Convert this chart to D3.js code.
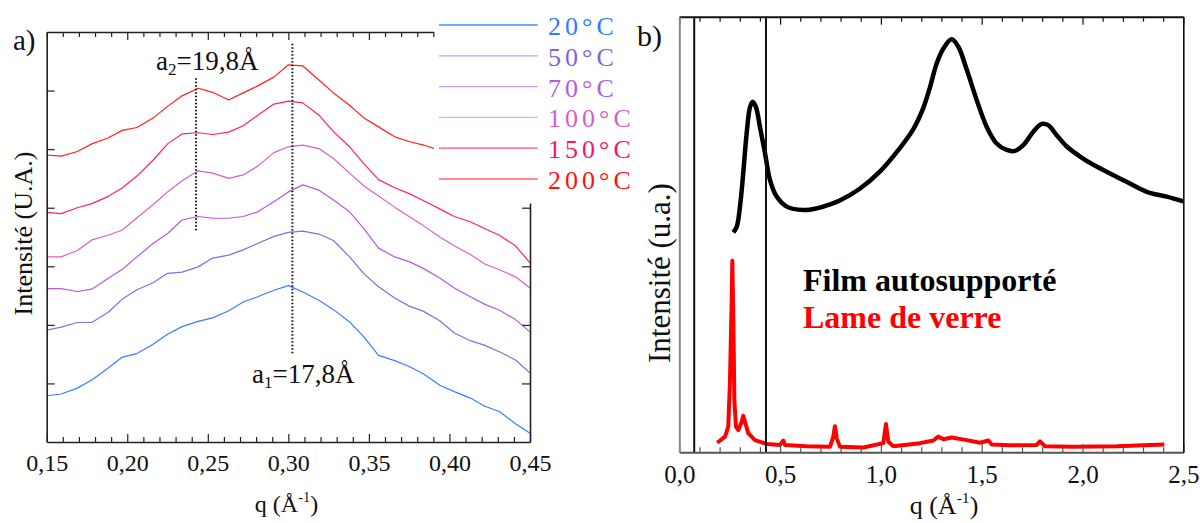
<!DOCTYPE html>
<html><head><meta charset="utf-8">
<script src="https://cdn.jsdelivr.net/npm/d3@7"></script>
<style>html,body{margin:0;padding:0;background:#fff;}svg{display:block;}</style>
</head><body>
<svg id="chart" width="1200" height="523"></svg>
<script>
// ---------- DATA (panel a) ----------
const qLeft = [0.150,0.159,0.169,0.178,0.188,0.197,0.206,0.216,0.225,0.234,0.244,0.253,0.263,0.272,0.281,0.291,0.300,0.309,0.319,0.328,0.338,0.347,0.356,0.366,0.375,0.384,0.394,0.403,0.413,0.422,0.431,0.441,0.450];
const i20  = [0.79,0.82,0.92,1.06,1.26,1.45,1.51,1.67,1.84,1.97,2.06,2.12,2.24,2.39,2.48,2.59,2.67,2.56,2.42,2.26,2.05,1.79,1.48,1.39,1.29,1.16,0.97,0.86,0.75,0.61,0.52,0.31,0.15];
const i50  = [1.91,1.96,2.04,2.04,2.21,2.44,2.60,2.72,2.88,2.90,2.99,3.14,3.19,3.28,3.39,3.51,3.58,3.60,3.55,3.44,3.16,2.87,2.65,2.46,2.32,2.23,2.07,1.86,1.73,1.65,1.54,1.40,1.18];
const i70  = [2.62,2.62,2.57,2.61,2.79,2.95,3.16,3.39,3.56,3.79,3.85,3.82,3.82,3.85,3.93,4.10,4.27,4.39,4.30,4.13,3.93,3.64,3.31,3.16,3.08,2.96,2.80,2.63,2.48,2.35,2.25,2.09,1.88];
const i100 = [3.16,3.16,3.27,3.45,3.53,3.62,3.83,4.05,4.27,4.46,4.63,4.59,4.50,4.56,4.71,4.94,5.04,5.07,5.01,4.84,4.59,4.37,4.20,4.01,3.85,3.69,3.50,3.35,3.20,3.04,2.94,2.82,2.63];
const i150 = [3.92,3.90,4.00,4.07,4.19,4.34,4.54,4.81,5.09,5.26,5.28,5.25,5.29,5.40,5.58,5.77,5.82,5.79,5.58,5.30,5.04,4.75,4.48,4.34,4.24,4.12,3.98,3.85,3.76,3.64,3.53,3.35,3.06];
const i200 = [4.90,4.88,4.96,5.09,5.19,5.32,5.37,5.53,5.73,5.91,6.04,5.97,5.84,5.96,6.08,6.23,6.44,6.42,6.18,5.96,5.75,5.53,5.38,5.21,5.13,5.07,4.98];
const tempLabels = ["20°C","50°C","70°C","100°C","150°C","200°C"];
const xTicksA = [0.15,0.20,0.25,0.30,0.35,0.40,0.45];
const markQ = [0.2427, 0.3025];
const markTop = [6.21, 6.80];
const markBottom = [3.59, 1.50];

// ---------- DATA (panel b) ----------
const qFilm = [0.268,0.285,0.301,0.317,0.334,0.351,0.364,0.380,0.400,0.425,0.450,0.483,0.533,0.615,0.682,0.748,0.796,0.895,0.996,1.090,1.161,1.210,1.244,1.277,1.310,1.351,1.384,1.426,1.475,1.525,1.574,1.624,1.665,1.706,1.756,1.798,1.830,1.872,1.922,1.988,2.054,2.120,2.219,2.318,2.418,2.500];
const iFilm = [50.5,51.8,56.4,64.0,73.2,79.3,80.5,79.3,74.7,68.7,62.5,58.7,56.4,55.6,56.0,56.9,57.8,60.5,64.5,69.6,74.2,79.0,83.9,89.3,92.7,94.8,93.1,87.8,80.9,74.7,70.9,69.4,69.2,70.5,73.6,75.4,75.1,72.8,70.2,67.9,66.0,64.4,62.1,59.8,58.7,57.6];
const qGlass = [0.188,0.227,0.243,0.251,0.260,0.263,0.268,0.273,0.281,0.293,0.310,0.317,0.326,0.342,0.375,0.434,0.500,0.516,0.524,0.632,0.748,0.764,0.772,0.781,0.797,0.913,1.012,1.025,1.037,1.062,1.194,1.260,1.285,1.310,1.351,1.426,1.492,1.533,1.550,1.640,1.773,1.789,1.814,1.954,2.170,2.406];
const iGlass = [2.2,3.6,5.9,15.9,35.0,44.0,31.1,12.0,5.9,5.1,7.0,8.4,7.0,4.4,2.8,1.9,1.7,2.7,1.7,1.4,1.3,3.6,6.0,3.2,1.3,1.1,2.1,6.5,2.4,1.4,2.1,2.7,3.6,3.0,3.4,2.8,2.2,2.7,1.8,1.6,1.7,2.5,1.4,1.3,1.4,1.8];
const xTicksB = [0,0.5,1.0,1.5,2.0,2.5];
const boxQ = [0.074, 0.430];
const seriesNamesB = ["Film autosupporté","Lame de verre"];

// ---------- DRAW ----------
const svg = d3.select("#chart");
const serif = "'Liberation Serif','Times New Roman',serif";
const curveColors = ["#3b7dff","#8a6ae0","#b85ad8","#d860c8","#ff2070","#ff2020"];
const legendLineColors = ["#4a88ff","#b4a2f0","#d49ae8","#eaa2dc","#ff4a88","#ff8a8a"];
const legendTextColors = ["#2f7bff","#7a66dd","#b25cdc","#d35fc8","#ff1166","#ff1010"];

// panel a scales
const xA = d3.scaleLinear([0.15,0.45],[46.7,530]);
const yA = d3.scaleLinear([0,7],[442,32]);
const seriesA = [i20,i50,i70,i100,i150,i200];
const lineA = d3.line().x((d,i)=>xA(qLeft[i])).y(d=>yA(d));
const gA = svg.append("g");
seriesA.forEach((s,k)=>{
  gA.append("path").attr("d",lineA(s)).attr("fill","none")
    .attr("stroke",curveColors[k]).attr("stroke-width",1.2).attr("stroke-linejoin","round");
});
// dotted markers
markQ.forEach((q,i)=>{
  gA.append("line").attr("x1",xA(q)).attr("x2",xA(q)).attr("y1",yA(markTop[i])).attr("y2",yA(markBottom[i]))
    .attr("stroke","#111").attr("stroke-width",2).attr("stroke-dasharray","1.5,2");
});
// legend bg
svg.append("rect").attr("x",434).attr("y",0).attr("width",198).attr("height",201).attr("fill","#fff");
tempLabels.forEach((t,k)=>{
  const yb = 35 + k*30.8;
  svg.append("line").attr("x1",439).attr("x2",537.7).attr("y1",yb-10).attr("y2",yb-10)
    .attr("stroke",legendLineColors[k]).attr("stroke-width",k===5?2:1.3);
  svg.append("text").attr("x",548).attr("y",yb).text(t).attr("fill",legendTextColors[k])
    .attr("font-family",serif).attr("font-size",26).attr("letter-spacing","4px");
});

function fmt(n){return d=>d.toFixed(n).replace(".",",");}
function styleAxis(g,color,w){
  g.attr("font-family",null).attr("font-size",null);
  g.selectAll("path.domain").attr("stroke",color).attr("stroke-width",w);
  g.selectAll(".tick line").attr("stroke",color).attr("stroke-width",1.2);
}
// panel a axes
const minorA = d3.range(15,46).map(v=>v/100).filter(v=>!xTicksA.some(m=>Math.abs(m-v)<1e-6));
let g = svg.append("g").attr("transform","translate(0,442)")
  .call(d3.axisBottom(xA).tickValues(xTicksA).tickFormat(fmt(2)).tickSizeInner(-8).tickSizeOuter(0).tickPadding(12));
styleAxis(g,"#222",1.6);
g.selectAll("text").attr("font-family",serif).attr("font-size",24).attr("fill","#111");
g = svg.append("g").attr("transform","translate(0,442)")
  .call(d3.axisBottom(xA).tickValues(minorA).tickFormat("").tickSizeInner(-5).tickSizeOuter(0));
g.select(".domain").remove(); styleAxis(g,"#222",1.6);
const xATop = xA.copy().domain([0.15,0.39]).range([xA(0.15),xA(0.39)]);
g = svg.append("g").attr("transform","translate(0,32)")
  .call(d3.axisTop(xATop).tickValues(d3.range(15,40).map(v=>v/100)).tickFormat("").tickSizeInner(-5).tickSizeOuter(0));
styleAxis(g,"#222",1.6);
g.selectAll(".tick line").attr("y2",d=>[0.2,0.25,0.3,0.35].some(m=>Math.abs(m-d)<1e-6)?8:5);
g = svg.append("g").attr("transform","translate(46.7,0)")
  .call(d3.axisLeft(yA).tickValues([1,2,3,4,5,6]).tickFormat("").tickSizeInner(-8).tickSizeOuter(0));
styleAxis(g,"#222",1.6);
const yARight = yA.copy().domain([0,4.08]).range([yA(0),yA(4.08)]);
g = svg.append("g").attr("transform","translate(530,0)")
  .call(d3.axisRight(yARight).tickValues([1,2,3,4]).tickFormat("").tickSizeInner(-8).tickSizeOuter(0));
styleAxis(g,"#222",1.6);

// panel a texts
svg.append("text").attr("x",13).attr("y",50).text("a)").attr("font-family",serif).attr("font-size",29).attr("fill","#111");
svg.append("text").attr("transform","translate(31.7,233.5) rotate(-90)").attr("text-anchor","middle")
  .text("Intensité (U.A.)").attr("font-family",serif).attr("font-size",26).attr("fill","#111");
function xLabel(x,y,size){
  const t = svg.append("text").attr("x",x).attr("y",y).attr("text-anchor","middle")
    .attr("font-family",serif).attr("font-size",size).attr("fill","#111");
  t.append("tspan").text("q (Å");
  t.append("tspan").text("-1").attr("font-size",size*0.6).attr("dy",-size*0.42);
  t.append("tspan").text(")").attr("dy",size*0.42);
}
xLabel(286.5,512,24);
function annot(x,y,sub,val){
  const t = svg.append("text").attr("x",x).attr("y",y).attr("font-family",serif).attr("font-size",27).attr("fill","#111");
  t.append("tspan").text("a");
  t.append("tspan").text(sub).attr("font-size",17).attr("dy",5);
  t.append("tspan").text("="+val).attr("dy",-5);
}
annot(156,70,"2","19,8Å");
annot(252,383,"1","17,8Å");

// panel b
const xB = d3.scaleLinear([0,2.5],[679.3,1183.3]);
const yB = d3.scaleLinear([0,100],[452.3,16.7]);
const lineB = d3.line().x(d=>xB(d[0])).y(d=>yB(d[1]));
svg.append("path").attr("d",lineB.curve(d3.curveLinear)(qGlass.map((q,i)=>[q,iGlass[i]])))
  .attr("fill","none").attr("stroke","#ff0000").attr("stroke-width",4).attr("stroke-linejoin","round");
svg.append("path").attr("d",d3.line().x(d=>xB(d[0])).y(d=>yB(d[1])).curve(d3.curveCatmullRom)(qFilm.map((q,i)=>[q,iFilm[i]])))
  .attr("fill","none").attr("stroke","#000").attr("stroke-width",4.5).attr("stroke-linejoin","round");
boxQ.forEach(q=>{
  svg.append("line").attr("x1",xB(q)).attr("x2",xB(q)).attr("y1",yB(100)).attr("y2",yB(0))
    .attr("stroke","#111").attr("stroke-width",2);
});
const minorB = d3.range(0,26).map(v=>v/10).filter(v=>!xTicksB.some(m=>Math.abs(m-v)<1e-6));
g = svg.append("g").attr("transform","translate(0,452.3)")
  .call(d3.axisBottom(xB).tickValues(xTicksB).tickFormat(fmt(1)).tickSizeInner(-8).tickSizeOuter(0).tickPadding(13));
styleAxis(g,"#555",2);
g.selectAll("text").attr("font-family",serif).attr("font-size",25).attr("fill","#111");
g = svg.append("g").attr("transform","translate(0,452.3)")
  .call(d3.axisBottom(xB).tickValues(minorB).tickFormat("").tickSizeInner(-5).tickSizeOuter(0));
g.select(".domain").remove(); styleAxis(g,"#555",2);
g = svg.append("g").attr("transform","translate(0,16.7)")
  .call(d3.axisTop(xB).tickValues(xTicksB.concat(minorB)).tickFormat("").tickSizeInner(-5).tickSizeOuter(0));
styleAxis(g,"#111",2);
g.selectAll(".tick line").attr("y2",d=>xTicksB.some(m=>Math.abs(m-d)<1e-6)?8:5);
g = svg.append("g").attr("transform","translate(679.3,0)")
  .call(d3.axisLeft(yB).tickValues([]).tickSizeOuter(0));
styleAxis(g,"#888",2);
g = svg.append("g").attr("transform","translate(1183.3,0)")
  .call(d3.axisRight(yB).tickValues([]).tickSizeOuter(0));
styleAxis(g,"#111",1.6);

svg.append("text").attr("x",637).attr("y",46).text("b)").attr("font-family",serif).attr("font-size",30).attr("fill","#111");
svg.append("text").attr("transform","translate(670,273) rotate(-90)").attr("text-anchor","middle")
  .text("Intensité (u.a.)").attr("font-family",serif).attr("font-size",31).attr("fill","#111");
xLabel(944,514,26);
svg.append("text").attr("x",803).attr("y",291).text(seriesNamesB[0]).attr("font-family",serif)
  .attr("font-weight","bold").attr("font-size",32).attr("fill","#000");
svg.append("text").attr("x",803).attr("y",328).text(seriesNamesB[1]).attr("font-family",serif)
  .attr("font-weight","bold").attr("font-size",32).attr("fill","#ff0000");
</script>
</body></html>
